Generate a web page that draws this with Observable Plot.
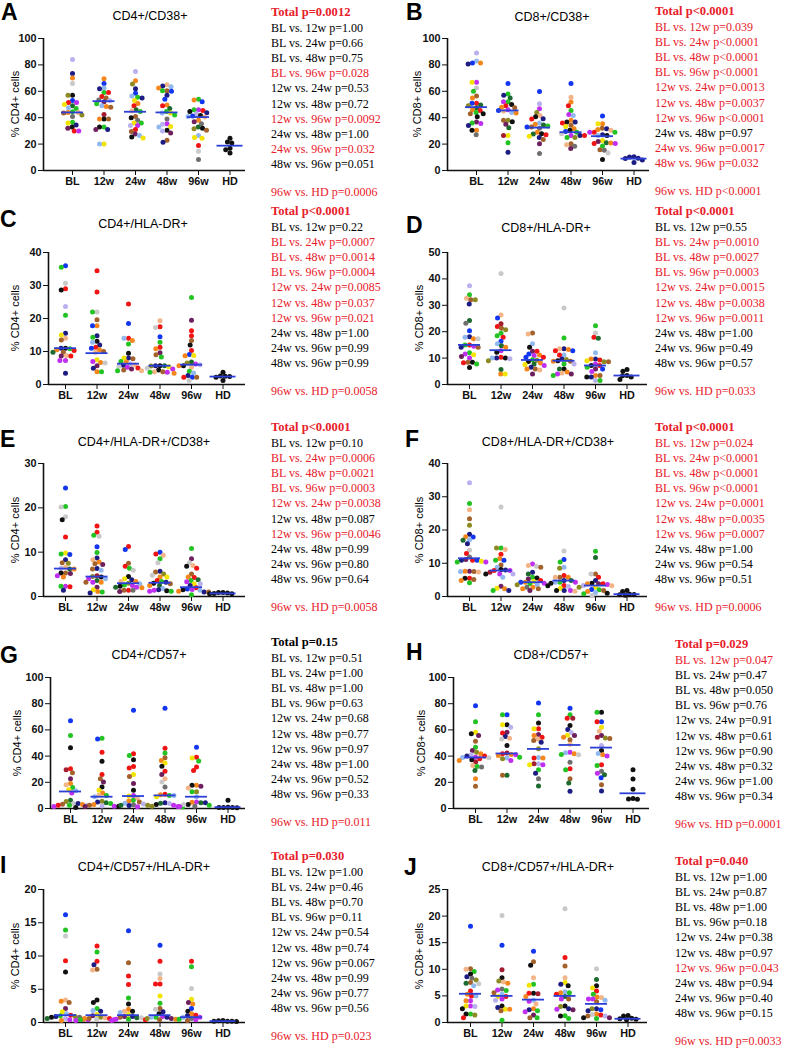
<!DOCTYPE html>
<html><head><meta charset="utf-8">
<script src="https://cdn.jsdelivr.net/npm/d3@7"></script>
<script src="https://cdn.jsdelivr.net/npm/@observablehq/plot@0.6"></script>
<style>
body{margin:0;background:#fff;}
#fig{position:relative;width:788px;height:1049px;overflow:hidden;background:#fff;}
.abs{position:absolute;}
.letter{font:bold 23px "Liberation Sans",Arial,sans-serif;color:#000;line-height:1;}
.title{font:12.5px "Liberation Sans",Arial,sans-serif;color:#000;transform:translate(-50%,-50%);white-space:nowrap;}
.ylab{font:11px "Liberation Sans",Arial,sans-serif;color:#000;transform:translate(-50%,-50%) rotate(-90deg);white-space:nowrap;}
.stats{font:12px "Liberation Serif","Times New Roman",serif;line-height:15.2px;white-space:nowrap;}
.stats .tot{font-weight:bold;font-size:12.6px;}
.stats .hd{margin-top:12.8px;}
.red{color:#e8202a;} .blk{color:#000;}
</style>
</head><body>
<div id="fig"></div>
<script>
// ---------- categories ----------
const GROUPS = ["BL","12w","24w","48w","96w","HD"];
const COMPARISONS = ["BL vs. 12w","BL vs. 24w","BL vs. 48w","BL vs. 96w","12w vs. 24w","12w vs. 48w","12w vs. 96w","24w vs. 48w","24w vs. 96w","48w vs. 96w"];
const PALETTE = {k:"#111111",n:"#1c1c82",b:"#1236f0",r:"#f01414",g:"#22c322",dg:"#1e6b30",o:"#f5861c",p:"#f3b487",br:"#a3622c",ol:"#8c8a22",y:"#f2e400",m:"#c02ef0",dp:"#6e1f5e",lb:"#92b8f0",lg:"#c9c9c9",gr:"#6f6f6f",lv:"#b9b1ee",dr:"#a31c30"};

// ---------- A: CD4+/CD38+ ----------
const A_BL=[[84,"lv"],[73.5,"n"],[70,"o"],[66,"lg"],[57,"k"],[57,"ol"],[53,"b"],[51.5,"r"],[51.5,"m"],[50,"y"],[49,"dg"],[47.5,"lb"],[47,"g"],[44.5,"g"],[44,"o"],[44,"p"],[43.5,"br"],[42,"ol"],[41,"gr"],[36.5,"g"],[36,"y"],[34.5,"n"],[33,"k"],[32,"dp"],[30,"r"],[30,"m"]];
const A_12=[[69.5,"o"],[66,"b"],[62.5,"lb"],[62,"n"],[59,"g"],[59,"r"],[56,"r"],[55,"br"],[53.5,"gr"],[53,"lv"],[52,"dp"],[50.5,"g"],[49,"lb"],[48.5,"o"],[48,"br"],[42.5,"dr"],[39,"k"],[39,"o"],[39,"br"],[33,"g"],[33,"k"],[31,"n"],[31,"dp"],[20,"y"],[20,"lb"]];
const A_24=[[75,"lv"],[68,"o"],[65.5,"ol"],[62,"n"],[58.5,"b"],[56.5,"lb"],[55.5,"g"],[55,"n"],[53,"y"],[50.7,"o"],[49,"r"],[46,"dg"],[45,"p"],[44.7,"g"],[41,"br"],[40,"k"],[38,"gr"],[36,"y"],[36,"g"],[34,"m"],[34,"lv"],[31,"r"],[29.6,"br"],[27.6,"dp"],[26.6,"lb"],[25.4,"k"],[24.6,"y"]];
const A_48=[[65,"p"],[64,"n"],[63.5,"lb"],[62.5,"o"],[60.5,"br"],[60.5,"g"],[60,"b"],[57,"n"],[54,"b"],[49.7,"o"],[49,"r"],[47,"dg"],[44.7,"g"],[43.5,"y"],[43.5,"lb"],[42,"g"],[39,"gr"],[35.4,"m"],[35,"lv"],[33.4,"y"],[33,"lb"],[30.4,"k"],[30,"lv"],[28.4,"dp"],[23,"br"],[21.4,"n"]];
const A_96=[[54,"g"],[53.5,"o"],[52,"b"],[46,"m"],[46,"g"],[45.5,"r"],[44.7,"k"],[43.7,"n"],[43,"lv"],[41.7,"k"],[41.2,"b"],[41,"lb"],[40.5,"p"],[38,"o"],[37,"dp"],[35.4,"gr"],[33,"dg"],[32,"k"],[31.7,"ol"],[30.4,"br"],[26.6,"lb"],[25,"y"],[24.5,"y"],[19,"r"],[14.6,"lg"],[8.3,"gr"]];
const A_HD=[[21.6,"k"],[13.3,"k"],[16.8,"k"],[24.4,"k"],[20.8,"k"],[15.8,"k"]];
const A_MED=[44,52.5,44.5,44,40.5,18.8];
const A_TOTAL="=0.0012", A_PV=["=1.00","=0.66","=0.75","=0.028","=0.53","=0.72","=0.0092","=1.00","=0.032","=0.051"], A_HDP="=0.0006";

// ---------- B: CD8+/CD38+ ----------
const B_BL=[[89,"lv"],[83,"lb"],[81.5,"b"],[81.5,"o"],[80.6,"n"],[66.8,"m"],[66.8,"y"],[62.5,"lg"],[60,"g"],[56.5,"br"],[55,"o"],[51,"r"],[51,"b"],[49.7,"dg"],[49,"ol"],[47.5,"dg"],[46,"o"],[45.5,"r"],[44,"g"],[43,"br"],[43,"k"],[40.7,"k"],[36.7,"dp"],[36,"g"],[35.7,"m"],[34,"n"],[30.4,"o"],[30.4,"k"],[27,"gr"]];
const B_12=[[66,"b"],[58,"g"],[57,"n"],[55,"dg"],[52,"g"],[52,"m"],[50,"k"],[49,"r"],[48,"o"],[47.5,"br"],[46,"m"],[45.5,"b"],[45,"p"],[44,"lb"],[43.5,"o"],[38,"ol"],[38,"br"],[37,"k"],[35,"dp"],[32.4,"dg"],[26.6,"y"],[26.6,"dr"],[21,"g"],[13.8,"n"]];
const B_24=[[59.8,"b"],[50.5,"lv"],[46.7,"m"],[44,"ol"],[41.7,"p"],[40.7,"k"],[39.2,"n"],[39,"r"],[36,"lb"],[35,"o"],[34.4,"dg"],[33.7,"g"],[33,"br"],[33,"b"],[32,"gr"],[29,"o"],[27.9,"k"],[27.6,"dg"],[27,"r"],[26,"y"],[25,"n"],[23.4,"br"],[20.3,"dp"],[12.8,"gr"]];
const B_48=[[66,"b"],[55.5,"p"],[51.8,"o"],[49,"r"],[45.5,"g"],[42.5,"m"],[41.7,"lb"],[38,"o"],[36.7,"k"],[36.7,"n"],[36,"r"],[34.2,"br"],[33.4,"y"],[31.7,"o"],[30.4,"k"],[29.6,"b"],[29,"g"],[27.9,"lg"],[26.6,"m"],[26.6,"n"],[26.6,"r"],[25,"g"],[25,"ol"],[20.3,"br"],[19.6,"p"],[18.3,"gr"],[16.6,"dp"]];
const B_96=[[41.2,"b"],[35.4,"o"],[35.4,"y"],[32,"br"],[31.7,"n"],[31,"o"],[30.5,"p"],[29,"r"],[29,"g"],[29,"m"],[27,"n"],[26.6,"lb"],[26.6,"k"],[22.8,"y"],[22,"dp"],[21,"dg"],[20.9,"o"],[20.4,"r"],[20.4,"m"],[18.6,"g"],[15.8,"br"],[15.3,"gr"],[13.3,"lg"],[8.3,"k"]];
const B_HD=[[10.3,"n"],[6,"n"],[10.5,"n"],[8,"n"],[9,"n"],[9.3,"n"]];
const B_MED=[48,45.5,32.5,29,26,9];
const B_TOTAL="<0.0001", B_PV=["=0.039","<0.0001","<0.0001","<0.0001","=0.0013","=0.0037","<0.0001","=0.97","=0.0017","=0.032"], B_HDP="<0.0001";

// ---------- C: CD4+/HLA-DR+ ----------
const C_BL=[[36,"b"],[35.5,"g"],[30.7,"lg"],[29,"r"],[28.6,"k"],[23.6,"lv"],[21,"g"],[15.5,"n"],[15,"y"],[14,"p"],[13.5,"br"],[11,"k"],[11,"n"],[10.8,"g"],[10.5,"o"],[10.3,"r"],[9.8,"br"],[9.8,"dg"],[8.8,"p"],[8.6,"dp"],[8.6,"r"],[7.3,"m"],[7.3,"m"],[3.4,"n"]];
const C_12=[[34.5,"r"],[28,"r"],[22,"lg"],[22,"g"],[19.6,"br"],[17.8,"o"],[17.8,"b"],[14.8,"n"],[14.3,"g"],[13.1,"k"],[12.8,"lb"],[12,"n"],[11.3,"r"],[11,"b"],[10.5,"o"],[10,"br"],[9.8,"p"],[7.5,"y"],[7,"m"],[6.7,"o"],[6.5,"lg"],[5.7,"dp"],[4.9,"n"],[3.9,"o"],[3.9,"g"]];
const C_24=[[24.4,"r"],[18.5,"b"],[14,"r"],[14,"lb"],[13.3,"o"],[12.3,"g"],[9.5,"k"],[8,"n"],[8,"y"],[7.8,"br"],[7,"g"],[6.8,"o"],[6.2,"lv"],[6,"p"],[5.8,"n"],[5.5,"lg"],[5.2,"m"],[5,"r"],[4.7,"dp"],[4.4,"br"],[4.2,"g"],[4.2,"p"]];
const C_48=[[19.3,"p"],[17.5,"r"],[17.3,"lg"],[14.5,"b"],[12.8,"g"],[11.3,"r"],[10.8,"o"],[9.6,"dp"],[9,"br"],[8.3,"g"],[5.7,"k"],[5.7,"n"],[5.7,"dg"],[5.6,"ol"],[5.4,"y"],[4.9,"lg"],[4.7,"m"],[4.4,"k"],[3.9,"br"],[3.9,"p"],[3.7,"m"],[3.7,"g"],[3.4,"o"]];
const C_96=[[26.4,"g"],[19.5,"dp"],[16.3,"r"],[14.8,"r"],[13.3,"br"],[12,"k"],[10.3,"r"],[9.1,"b"],[8.8,"y"],[8.7,"o"],[6.8,"dg"],[6.5,"ol"],[6.2,"m"],[6,"lv"],[5.7,"k"],[5.7,"o"],[5.2,"p"],[4,"g"],[3.5,"lb"],[2.7,"n"],[2.2,"b"],[2.2,"br"],[2.2,"r"],[1.2,"lg"]];
const C_HD=[[2.5,"k"],[1.2,"k"],[2.2,"k"],[3.7,"k"],[2.6,"k"],[2.4,"k"]];
const C_MED=[11,9.5,6.3,5.7,6,2.4];
const C_TOTAL="<0.0001", C_PV=["=0.22","=0.0007","=0.0014","=0.0004","=0.0085","=0.037","=0.021","=1.00","=0.99","=0.99"], C_HDP="=0.0058";

// ---------- D: CD8+/HLA-DR+ ----------
const D_BL=[[37.4,"lv"],[34,"g"],[32.7,"p"],[32.1,"br"],[32.1,"ol"],[30.5,"n"],[24.2,"dg"],[23.2,"gr"],[20.4,"b"],[18.1,"n"],[17.9,"lb"],[17.3,"o"],[17.3,"lg"],[15,"r"],[15,"g"],[14.5,"m"],[14.1,"n"],[14.1,"br"],[12,"g"],[11.6,"m"],[11.3,"y"],[10.6,"dp"],[10,"m"],[8.4,"br"],[8.4,"k"],[8.2,"r"],[7.8,"g"],[6.4,"k"]];
const D_12=[[42,"lg"],[26.3,"p"],[25.2,"b"],[23,"dr"],[22,"r"],[21.3,"br"],[20.7,"ol"],[19.4,"g"],[18.5,"g"],[17.9,"r"],[16.4,"b"],[15.4,"lb"],[14.7,"dg"],[14.1,"o"],[12.8,"m"],[12.2,"k"],[10.3,"r"],[10,"n"],[10,"k"],[10,"lb"],[9.8,"lv"],[9,"ol"],[5.7,"dg"],[4,"o"],[4,"y"]];
const D_24=[[19.5,"br"],[19.1,"p"],[15.4,"lb"],[14.1,"k"],[12.6,"dp"],[12.6,"r"],[11.6,"b"],[11.2,"o"],[11,"m"],[10.3,"b"],[10.3,"r"],[9.4,"g"],[9.2,"ol"],[8.7,"k"],[8.1,"o"],[7.8,"dg"],[7.6,"y"],[7.2,"m"],[6.5,"n"],[5.9,"br"],[5.9,"o"],[5.5,"p"],[4,"dp"]];
const D_48=[[29,"lg"],[17.6,"g"],[13.5,"n"],[13.5,"p"],[13.3,"o"],[12.8,"r"],[12.8,"b"],[11.2,"lb"],[11.2,"r"],[9.7,"n"],[9.5,"ol"],[9,"k"],[8.8,"br"],[8.8,"o"],[7.8,"g"],[7.8,"lv"],[5.9,"k"],[5.9,"dg"],[4.7,"o"],[4.4,"p"],[4,"m"],[4,"dp"],[3.4,"g"]];
const D_96=[[22.3,"g"],[19.5,"lg"],[17.9,"r"],[17.5,"dg"],[12,"lb"],[9.7,"n"],[9.7,"o"],[9.3,"r"],[9,"y"],[8.6,"ol"],[8.6,"br"],[7.8,"m"],[7.2,"k"],[7.2,"r"],[6.5,"g"],[5.9,"dp"],[5.9,"b"],[4.9,"m"],[3.4,"o"],[3.4,"br"],[2.8,"n"],[2.8,"k"],[1.5,"lv"],[1.5,"g"]];
const D_HD=[[5.7,"k"],[1.9,"k"],[3.4,"k"],[3.3,"k"],[5,"k"],[2.8,"k"]];
const D_MED=[15,13,9.3,9,7.2,3.4];
const D_TOTAL="<0.0001", D_PV=["=0.55","=0.0010","=0.0027","=0.0003","=0.0015","=0.0038","=0.0011","=1.00","=0.49","=0.57"], D_HDP="=0.033";

// ---------- E: CD4+/HLA-DR+/CD38+ ----------
const E_BL=[[24.5,"b"],[20.3,"g"],[20.2,"lg"],[18,"lg"],[17.3,"k"],[13.4,"r"],[9.8,"y"],[9.6,"g"],[9.5,"b"],[8.3,"n"],[7.6,"br"],[7.5,"ol"],[6.6,"p"],[6.4,"lv"],[6.2,"dg"],[6.2,"o"],[5.3,"br"],[5.3,"k"],[5.2,"dp"],[4.7,"m"],[4.4,"o"],[2.3,"m"],[2.3,"g"],[2.2,"r"],[1.4,"n"]];
const E_12=[[15.9,"r"],[14.5,"r"],[13.8,"g"],[13.6,"lg"],[11.2,"b"],[9.9,"g"],[8.7,"n"],[8.3,"p"],[7.8,"o"],[7.4,"br"],[7.2,"dp"],[6.3,"n"],[6.2,"br"],[5.9,"lb"],[4.7,"dr"],[4.5,"ol"],[4.4,"k"],[4,"m"],[4,"lb"],[3.6,"dg"],[3.2,"m"],[3.2,"o"],[3.2,"br"],[2.1,"dp"],[1.5,"y"],[1.1,"o"],[1,"g"],[0.8,"n"]];
const E_24=[[11.3,"r"],[10.6,"b"],[7.5,"br"],[6.8,"r"],[6.4,"g"],[5.9,"lg"],[4.5,"k"],[4,"y"],[3.8,"n"],[3.4,"o"],[3.4,"p"],[3,"ol"],[2.9,"lb"],[2.6,"g"],[2.5,"m"],[2.3,"k"],[2.1,"m"],[2.1,"dg"],[2,"o"],[1.4,"r"],[1.4,"br"],[1.4,"gr"],[1.1,"dp"]];
const E_48=[[10,"b"],[9.6,"r"],[9.3,"p"],[8.5,"g"],[7.6,"lg"],[5.7,"n"],[5.5,"br"],[5.1,"ol"],[4.8,"lg"],[4.4,"o"],[4.4,"y"],[3.6,"r"],[3.4,"g"],[3.2,"n"],[3,"k"],[2.9,"br"],[2.5,"dg"],[2.5,"o"],[1.8,"lb"],[1.5,"n"],[1.4,"m"],[1.3,"k"],[1.2,"m"],[1.2,"g"]];
const E_96=[[10.8,"g"],[8.5,"dp"],[7.6,"lg"],[7,"p"],[6.8,"k"],[6.4,"r"],[5.1,"br"],[4.4,"o"],[4.3,"r"],[3.8,"dg"],[3.6,"g"],[3.3,"m"],[2.9,"y"],[2.9,"lv"],[2.5,"n"],[2,"r"],[1.7,"b"],[1.6,"m"],[1.5,"k"],[1.4,"lb"],[1.2,"o"],[1,"n"],[1,"br"],[0.4,"g"]];
const E_HD=[[0.8,"k"],[0.7,"k"],[0.9,"k"],[0.6,"k"],[0.9,"k"],[0.6,"k"]];
const E_MED=[6.3,4.5,3,3.1,2.1,0.7];
const E_TOTAL="<0.0001", E_PV=["=0.10","=0.0006","=0.0021","=0.0003","=0.0038","=0.087","=0.0046","=0.99","=0.80","=0.64"], E_HDP="=0.0058";

// ---------- F: CD8+/HLA-DR+/CD38+ ----------
const F_BL=[[34.2,"lv"],[28,"g"],[26.1,"p"],[23.4,"br"],[21.4,"ol"],[18.7,"n"],[18,"o"],[17.9,"b"],[17.1,"lb"],[16.9,"dg"],[15.9,"n"],[13.9,"lg"],[12.9,"r"],[11.9,"gr"],[11.1,"dp"],[10.9,"r"],[10.9,"b"],[10.9,"n"],[10.6,"y"],[10.4,"g"],[10.4,"m"],[7.6,"dp"],[7.6,"o"],[7.5,"br"],[7.5,"lb"],[7.4,"p"],[5.5,"r"],[5.5,"k"],[5.1,"br"],[4.8,"o"],[4.1,"g"]];
const F_12=[[26.9,"lg"],[14.6,"g"],[14.6,"ol"],[14.1,"p"],[12.7,"r"],[11.4,"o"],[10.9,"b"],[10.9,"g"],[9.5,"br"],[8.8,"lb"],[8.1,"k"],[8,"n"],[7.8,"r"],[7.8,"m"],[7.3,"dr"],[6.8,"m"],[6.8,"lv"],[6.8,"k"],[5.8,"lb"],[3.1,"dp"],[2.5,"y"],[2.3,"o"],[1.8,"n"],[1.8,"g"]];
const F_24=[[9.8,"m"],[9.3,"p"],[9.1,"lg"],[8.8,"br"],[7.3,"n"],[6.8,"dg"],[5.8,"g"],[5.6,"k"],[5.3,"dp"],[4.8,"r"],[4.5,"y"],[4.3,"o"],[4.3,"b"],[4,"m"],[3.8,"g"],[3.6,"lb"],[3.5,"ol"],[3.2,"k"],[2.8,"o"],[2.8,"gr"],[2.3,"br"],[2.3,"o"],[1.8,"dp"]];
const F_48=[[13.7,"lg"],[11.1,"b"],[10.4,"g"],[8.8,"lb"],[8.5,"ol"],[6.3,"r"],[5.8,"br"],[5.8,"o"],[5.8,"p"],[4.8,"n"],[4.8,"dg"],[4.3,"g"],[4.3,"lb"],[4.3,"m"],[4,"k"],[3.3,"r"],[3,"lv"],[2.5,"y"],[1.8,"n"],[1.8,"m"],[1.8,"k"],[1.6,"p"]];
const F_96=[[13.6,"g"],[11.7,"dg"],[6.8,"br"],[6.8,"lg"],[5.8,"r"],[4.8,"n"],[4,"k"],[3.8,"dp"],[3.8,"r"],[3.8,"o"],[3.6,"m"],[3.3,"lv"],[3.2,"p"],[2.8,"y"],[2.8,"ol"],[2.1,"b"],[2,"g"],[1.8,"br"],[1.5,"o"],[1.2,"lb"],[1,"k"],[0.8,"g"],[0.3,"lg"]];
const F_HD=[[0.5,"k"],[1.5,"k"],[0.4,"k"],[1.8,"k"],[0.7,"k"],[0.6,"k"]];
const F_MED=[11.5,7.8,4.3,4.8,3.3,0.7];
const F_TOTAL="<0.0001", F_PV=["=0.024","<0.0001","<0.0001","<0.0001","=0.0001","=0.0035","=0.0007","=1.00","=0.54","=0.51"], F_HDP="=0.0006";

// ---------- G: CD4+/CD57+ ----------
const G_BL=[[67,"b"],[55.7,"g"],[46.3,"k"],[30.4,"r"],[29.6,"dr"],[27.3,"br"],[22.8,"dp"],[19,"o"],[18.2,"p"],[16,"g"],[14.4,"y"],[13.5,"lb"],[11.9,"m"],[6.3,"dg"],[5.3,"ol"],[3.8,"lg"],[3.8,"n"],[3.3,"br"],[3,"o"],[2.5,"g"],[2.5,"r"],[2.2,"lv"],[1.5,"m"],[0.8,"k"]];
const G_12=[[53.7,"g"],[53,"b"],[43,"r"],[36,"k"],[26,"r"],[22.8,"br"],[20.3,"dp"],[16.5,"k"],[13.9,"y"],[11.9,"o"],[10.1,"p"],[10,"g"],[8.9,"lb"],[5.6,"ol"],[5,"n"],[4.3,"dg"],[3.8,"g"],[3,"o"],[2.5,"br"],[2,"lv"],[1.8,"m"],[1.8,"k"],[1.6,"dp"]];
const G_24=[[75,"b"],[41.8,"r"],[40.5,"g"],[37.2,"k"],[32,"r"],[31,"r"],[26,"y"],[24.5,"br"],[19,"dp"],[13.9,"k"],[10,"m"],[9.6,"y"],[8,"p"],[6.3,"g"],[5.8,"o"],[5,"br"],[4,"lb"],[3.5,"lv"],[2.8,"gr"],[2.5,"dg"],[2.5,"ol"],[2.2,"n"],[1.3,"m"]];
const G_48=[[76.5,"b"],[46,"r"],[42.3,"g"],[38.7,"br"],[36.7,"o"],[34.7,"y"],[32.2,"k"],[28.4,"r"],[26,"dp"],[22.8,"p"],[20.3,"lg"],[16.5,"gr"],[10.9,"r"],[10.5,"o"],[10,"g"],[10,"lb"],[8.9,"y"],[4.3,"n"],[4,"dg"],[3.8,"lv"],[3,"k"],[2.5,"m"],[1.8,"ol"],[1.5,"m"],[1.2,"g"]];
const G_96=[[46.8,"b"],[39.2,"r"],[38.5,"y"],[36.2,"g"],[31.6,"r"],[29,"r"],[17.7,"o"],[17.7,"k"],[17,"dp"],[15.7,"p"],[12.7,"ol"],[12.7,"g"],[9,"lb"],[5,"m"],[4.8,"o"],[4.3,"dg"],[4.3,"n"],[3,"k"],[3,"lg"],[2.5,"g"],[1.8,"gr"],[1.5,"m"]];
const G_HD=[[6.3,"k"],[0.8,"k"],[0.6,"k"],[0.9,"k"],[0.7,"k"],[0.8,"k"]];
const G_MED=[13,9,9.5,10,9,1];
const G_TOTAL="=0.15", G_PV=["=0.51","=1.00","=1.00","=0.63","=0.68","=0.77","=0.97","=1.00","=0.52","=0.33"], G_HDP="=0.011";

// ---------- H: CD8+/CD57+ ----------
const H_BL=[[78.5,"b"],[66.3,"g"],[58.2,"y"],[57,"k"],[55.7,"dp"],[51.4,"br"],[46.8,"g"],[44.3,"dp"],[43,"ol"],[41.8,"o"],[41,"lv"],[40,"n"],[40,"r"],[39.2,"m"],[39,"lb"],[38.8,"lg"],[38,"r"],[37.2,"k"],[36.7,"o"],[35.5,"dr"],[32.9,"p"],[32,"g"],[31.6,"gr"],[29,"dg"],[22.8,"o"],[17,"br"]];
const H_12=[[71.6,"b"],[71.6,"g"],[64,"k"],[64,"y"],[62,"lv"],[58.2,"dp"],[57.7,"r"],[55,"n"],[53.7,"p"],[53,"lg"],[48,"k"],[42.3,"dr"],[41.8,"r"],[41.3,"o"],[41,"m"],[40.5,"o"],[39.2,"g"],[38.5,"lb"],[38,"ol"],[36.7,"m"],[25.3,"dg"],[25.3,"br"]];
const H_24=[[80.5,"b"],[71.6,"g"],[65.3,"k"],[60.8,"r"],[60.8,"y"],[56.5,"dp"],[55.7,"o"],[54.4,"r"],[53,"p"],[51.9,"br"],[50.6,"n"],[45.6,"ol"],[39,"lb"],[38.5,"r"],[38.5,"o"],[34.2,"lv"],[34.2,"dr"],[33.4,"m"],[33.4,"y"],[29.6,"g"],[27,"n"],[22.8,"gr"],[17.2,"dg"]];
const H_48=[[76.5,"b"],[71.6,"g"],[68.9,"r"],[68.9,"dr"],[63.3,"k"],[60.3,"n"],[58,"lv"],[56,"y"],[55.7,"dp"],[54.4,"o"],[52.5,"br"],[49,"p"],[43,"m"],[42.5,"lb"],[41.8,"o"],[41.3,"g"],[41,"lg"],[35.4,"gr"],[30.4,"r"],[29.6,"g"],[22.8,"br"],[19.5,"dg"],[13.2,"n"]];
const H_96=[[73.4,"k"],[73.4,"g"],[66.3,"b"],[66.3,"r"],[62,"y"],[59,"p"],[55.7,"dp"],[54.4,"dr"],[53.9,"ol"],[53.5,"br"],[48,"lv"],[44.3,"k"],[42,"lb"],[41,"o"],[40,"m"],[33.4,"r"],[32.9,"g"],[28.4,"gr"],[27,"m"],[25.8,"dg"],[23.5,"b"],[18.2,"br"],[13.4,"n"]];
const H_HD=[[29.6,"k"],[22.5,"k"],[14.6,"k"],[7,"k"],[7.6,"k"],[7.3,"k"]];
const H_MED=[39,42,45.5,48.5,46.5,11.6];
const H_TOTAL="=0.029", H_PV=["=0.047","=0.47","=0.050","=0.76","=0.91","=0.61","=0.90","=0.32","=1.00","=0.34"], H_HDP="=0.0001";

// ---------- I: CD4+/CD57+/HLA-DR+ ----------
const I_BL=[[16.2,"b"],[13.9,"g"],[13,"lg"],[9.3,"r"],[7.6,"k"],[3.4,"p"],[3.2,"o"],[3,"br"],[2.1,"dp"],[1.6,"y"],[1.3,"lb"],[1.1,"r"],[1,"g"],[0.9,"n"],[0.9,"ol"],[0.8,"k"],[0.8,"gr"],[0.6,"lv"],[0.6,"dg"],[0.5,"br"],[0.4,"m"],[0.4,"m"],[0.3,"o"]];
const I_12=[[11.5,"r"],[10.6,"g"],[9.2,"r"],[8.7,"n"],[8,"br"],[7.9,"p"],[3.4,"k"],[3,"k"],[2.1,"g"],[1.8,"lb"],[1.7,"n"],[1.2,"y"],[1,"dp"],[0.8,"ol"],[0.7,"p"],[0.6,"br"],[0.6,"o"],[0.6,"r"],[0.5,"lg"],[0.4,"g"],[0.4,"m"],[0.3,"m"]];
const I_24=[[13.8,"b"],[9,"br"],[7,"r"],[5.7,"r"],[3.7,"g"],[2.8,"k"],[2,"o"],[1.7,"p"],[1.7,"k"],[1.5,"lb"],[1.2,"y"],[0.9,"dp"],[0.9,"n"],[0.8,"br"],[0.7,"dg"],[0.7,"lg"],[0.5,"g"],[0.5,"m"],[0.4,"r"],[0.3,"m"]];
const I_48=[[11.6,"b"],[9.2,"r"],[7.3,"lg"],[6.6,"p"],[5.8,"r"],[5.8,"r"],[4,"y"],[2.9,"g"],[2.1,"br"],[2,"lg"],[1.6,"n"],[1.3,"k"],[0.9,"m"],[0.8,"g"],[0.8,"n"],[0.8,"lb"],[0.6,"dp"],[0.6,"ol"],[0.5,"o"],[0.4,"br"]];
const I_96=[[9.2,"r"],[8.4,"g"],[5.1,"lg"],[3.5,"y"],[3,"dp"],[2.8,"o"],[2.1,"b"],[1.7,"k"],[1.3,"o"],[1.1,"r"],[1,"n"],[0.8,"lb"],[0.8,"m"],[0.6,"gr"],[0.5,"g"],[0.4,"m"],[0.3,"br"]];
const I_HD=[[0.2,"k"],[0.3,"k"],[0.2,"k"],[0.15,"k"],[0.25,"k"],[0.2,"k"]];
const I_MED=[1.1,1.1,1.1,1.1,0.8,0.2];
const I_TOTAL="=0.030", I_PV=["=1.00","=0.46","=0.70","=0.11","=0.54","=0.74","=0.067","=0.99","=0.77","=0.56"], I_HDP="=0.023";

// ---------- J: CD8+/CD57+/HLA-DR+ ----------
const J_BL=[[18.1,"b"],[10.1,"br"],[10,"p"],[9.6,"g"],[9.1,"k"],[8.6,"n"],[8.3,"gr"],[8,"ol"],[7.5,"br"],[7.4,"dg"],[7.3,"lg"],[6.9,"lb"],[5.9,"r"],[5.3,"o"],[5,"r"],[5,"lb"],[4.1,"m"],[4.1,"o"],[3.1,"m"],[3.1,"y"],[3,"lv"],[2.6,"k"],[1.6,"g"],[1.6,"k"],[1.4,"ol"],[0.9,"r"]];
const J_12=[[20.1,"lg"],[14.5,"b"],[9.9,"dr"],[8.4,"k"],[7.8,"ol"],[7.6,"p"],[7.4,"o"],[6.3,"gr"],[6.1,"m"],[6,"g"],[5.6,"br"],[5.3,"lb"],[4.9,"y"],[4.9,"r"],[4.4,"m"],[4.2,"lv"],[3.1,"k"],[2.8,"n"],[2.5,"y"],[2.5,"o"],[2.2,"br"],[0.4,"g"]];
const J_24=[[13.4,"b"],[11.4,"br"],[10.75,"k"],[8.4,"p"],[7.2,"g"],[7,"y"],[5.5,"k"],[5.5,"r"],[5.4,"dr"],[4.9,"o"],[4.2,"lb"],[4,"m"],[3.5,"p"],[2.6,"o"],[2.4,"n"],[2.2,"g"],[2,"m"],[1.4,"dp"],[0.9,"br"],[0.9,"g"]];
const J_48=[[21.4,"lg"],[12.2,"r"],[10.6,"br"],[8.4,"p"],[7.5,"y"],[7.2,"n"],[6.9,"k"],[5.8,"lb"],[5.6,"o"],[5.6,"g"],[5.3,"r"],[4.9,"dg"],[4.4,"m"],[4.4,"br"],[3.1,"k"],[3,"ol"],[2.6,"n"],[2.5,"m"],[2.4,"dp"],[1.25,"g"],[1.2,"k"],[0.75,"g"]];
const J_96=[[10.1,"lg"],[8.1,"dg"],[6.9,"k"],[6.5,"y"],[5.9,"r"],[5.3,"g"],[4.8,"o"],[4.7,"p"],[4.4,"m"],[4.4,"m"],[4.2,"lb"],[3.9,"br"],[2.6,"n"],[2.6,"ol"],[2.4,"b"],[2.2,"n"],[1.6,"o"],[1.5,"lg"],[1.4,"r"],[1.2,"br"],[1.2,"lv"],[0.9,"k"],[0.9,"dp"],[0.75,"g"]];
const J_HD=[[1.3,"k"],[0.6,"k"],[0.7,"k"],[1.2,"k"],[0.8,"k"],[0.5,"k"]];
const J_MED=[5.4,5,4.3,5,3.5,0.7];
const J_TOTAL="=0.040", J_PV=["=1.00","=0.87","=1.00","=0.18","=0.38","=0.97","=0.043","=0.94","=0.40","=0.15"], J_HDP="=0.0033";

// ---------- layout ----------
const PANELS = [
 {id:"A",title:"CD4+/CD38+",ylab:"% CD4+ cells",ymax:100,yticks:[0,20,40,60,80,100],data:[A_BL,A_12,A_24,A_48,A_96,A_HD],med:A_MED,total:A_TOTAL,pv:A_PV,hdp:A_HDP,
  left:0,axisX:43,c0:72,end:245,yTop:38,y0:170,lx:1,ly:1,tx:150,ty:16,labX:15,sx:271,sy:13},
 {id:"B",title:"CD8+/CD38+",ylab:"% CD8+ cells",ymax:100,yticks:[0,20,40,60,80,100],data:[B_BL,B_12,B_24,B_48,B_96,B_HD],med:B_MED,total:B_TOTAL,pv:B_PV,hdp:B_HDP,
  left:394,axisX:447,c0:476,end:649,yTop:38,y0:170,lx:406,ly:1,tx:552,ty:17,labX:417,sx:655,sy:12},
 {id:"C",title:"CD4+/HLA-DR+",ylab:"% CD4+ cells",ymax:40,yticks:[0,10,20,30,40],data:[C_BL,C_12,C_24,C_48,C_96,C_HD],med:C_MED,total:C_TOTAL,pv:C_PV,hdp:C_HDP,
  left:0,axisX:48,c0:65,end:245,yTop:252,y0:384,lx:0,ly:208,tx:143,ty:224,labX:15,sx:271,sy:212},
 {id:"D",title:"CD8+/HLA-DR+",ylab:"% CD8+ cells",ymax:50,yticks:[0,10,20,30,40,50],data:[D_BL,D_12,D_24,D_48,D_96,D_HD],med:D_MED,total:D_TOTAL,pv:D_PV,hdp:D_HDP,
  left:394,axisX:447,c0:469,end:647,yTop:252,y0:384,lx:406,ly:214,tx:546,ty:228,labX:419,sx:655,sy:212},
 {id:"E",title:"CD4+/HLA-DR+/CD38+",ylab:"% CD4+ cells",ymax:30,yticks:[0,10,20,30],data:[E_BL,E_12,E_24,E_48,E_96,E_HD],med:E_MED,total:E_TOTAL,pv:E_PV,hdp:E_HDP,
  left:0,axisX:43,c0:65,end:245,yTop:463,y0:596,lx:0,ly:428,tx:144,ty:442,labX:15,sx:271,sy:428},
 {id:"F",title:"CD8+/HLA-DR+/CD38+",ylab:"% CD8+ cells",ymax:40,yticks:[0,10,20,30,40],data:[F_BL,F_12,F_24,F_48,F_96,F_HD],med:F_MED,total:F_TOTAL,pv:F_PV,hdp:F_HDP,
  left:394,axisX:447,c0:469,end:647,yTop:463,y0:596,lx:405,ly:428,tx:548,ty:442,labX:419,sx:655,sy:428},
 {id:"G",title:"CD4+/CD57+",ylab:"% CD4+ cells",ymax:100,yticks:[0,20,40,60,80,100],data:[G_BL,G_12,G_24,G_48,G_96,G_HD],med:G_MED,total:G_TOTAL,pv:G_PV,hdp:G_HDP,
  left:0,axisX:50,c0:70,end:245,yTop:677,y0:808,lx:0,ly:644,tx:149,ty:655,labX:17,sx:271,sy:643},
 {id:"H",title:"CD8+/CD57+",ylab:"% CD8+ cells",ymax:100,yticks:[0,20,40,60,80,100],data:[H_BL,H_12,H_24,H_48,H_96,H_HD],med:H_MED,total:H_TOTAL,pv:H_PV,hdp:H_HDP,
  left:394,axisX:453,c0:475,end:649,yTop:677,y0:808,lx:406,ly:641,tx:551,ty:655,labX:421,sx:675,sy:645},
 {id:"I",title:"CD4+/CD57+/HLA-DR+",ylab:"% CD4+ cells",ymax:20,yticks:[0,5,10,15,20],data:[I_BL,I_12,I_24,I_48,I_96,I_HD],med:I_MED,total:I_TOTAL,pv:I_PV,hdp:I_HDP,
  left:0,axisX:43,c0:65,end:245,yTop:889,y0:1022,lx:0,ly:854,tx:144,ty:867,labX:15,sx:271,sy:857},
 {id:"J",title:"CD8+/CD57+/HLA-DR+",ylab:"% CD8+ cells",ymax:25,yticks:[0,5,10,15,20,25],data:[J_BL,J_12,J_24,J_48,J_96,J_HD],med:J_MED,total:J_TOTAL,pv:J_PV,hdp:J_HDP,
  left:394,axisX:447,c0:470,end:647,yTop:889,y0:1022,lx:404,ly:856,tx:548,ty:867,labX:419,sx:675,sy:862}
];

const STEP = 31.5, R = 2.5, MEDIAN_BLUE = "#2c3fd6", AXIS = "#111";
const fig = document.getElementById("fig");

function swarm(groupArrays, ky) {
  const out = [];
  const dd = 2 * R * 0.9;
  groupArrays.forEach((arr, gi) => {
    const placed = [];
    const pts = arr.map(([v, c]) => ({v, c})).sort((a, b) => b.v - a.v);
    for (const d of pts) {
      const py = d.v * ky;
      const cands = [0];
      for (const q of placed) {
        const dy = Math.abs(q.py - py);
        if (dy < dd) { const dx = Math.sqrt(dd * dd - dy * dy); cands.push(q.px + dx, q.px - dx); }
      }
      cands.sort((a, b) => Math.abs(a) - Math.abs(b) || a - b);
      let px = 0;
      for (const c of cands) {
        if (placed.every(q => (q.px - c) ** 2 + (q.py - py) ** 2 >= dd * dd - 1e-6)) { px = c; break; }
      }
      placed.push({px, py});
      out.push({x: gi + px / STEP, y: d.v, fill: PALETTE[d.c]});
    }
  });
  return out;
}

function add(cls, x, y, html) {
  const el = document.createElement("div");
  el.className = "abs " + cls;
  el.style.left = x + "px"; el.style.top = y + "px";
  el.innerHTML = html;
  fig.appendChild(el);
  return el;
}

function sig(p) { return p.startsWith("<") || parseFloat(p.slice(1)) < 0.05; }

for (const P of PANELS) {
  const plotH = P.y0 - P.yTop;
  const ky = plotH / P.ymax;
  const dots = swarm(P.data, ky);
  const meds = P.med.map((m, i) => { const w = (i === 5 ? 13 : 11) / STEP; return {x1: i - w, x2: i + w, y: m}; });
  const d0 = (P.axisX - P.c0) / STEP, d1 = (P.end - P.c0) / STEP;
  const mr = 8;
  const svg = Plot.plot({
    width: P.end + mr - P.left,
    height: 10 + plotH + 30,
    marginLeft: P.axisX - P.left,
    marginRight: mr,
    marginTop: 10,
    marginBottom: 30,
    style: {fontFamily: '"Liberation Sans", Arial, sans-serif', fontSize: "10.8px", fontWeight: "bold", color: AXIS, background: "transparent", overflow: "visible"},
    x: {type: "linear", domain: [d0, d1], ticks: [0, 1, 2, 3, 4, 5], tickFormat: i => GROUPS[i], tickSize: 5, tickPadding: 2, label: null},
    y: {domain: [0, P.ymax], ticks: P.yticks, tickSize: 5, tickPadding: 2, label: null},
    marks: [
      Plot.ruleY([0], {stroke: AXIS, strokeWidth: 1.6}),
      Plot.ruleX([d0], {stroke: AXIS, strokeWidth: 1.6}),
      Plot.dot(dots, {x: "x", y: "y", fill: "fill", r: R, stroke: "none"}),
      Plot.ruleY(meds, {x1: "x1", x2: "x2", y: "y", stroke: MEDIAN_BLUE, strokeWidth: 1.8})
    ]
  });
  svg.style.position = "absolute";
  svg.style.left = P.left + "px";
  svg.style.top = (P.yTop - 10) + "px";
  fig.appendChild(svg);

  add("letter", P.lx, P.ly, P.id);
  add("title", P.tx, P.ty, P.title);
  add("ylab", P.labX, (P.yTop + P.y0) / 2, P.ylab);

  let html = `<div class="tot ${sig(P.total) ? "red" : "blk"}">Total p${P.total}</div>`;
  P.pv.forEach((p, i) => { html += `<div class="${sig(p) ? "red" : "blk"}">${COMPARISONS[i]} p${p}</div>`; });
  html += `<div class="hd ${sig(P.hdp) ? "red" : "blk"}">96w vs. HD p${P.hdp}</div>`;
  add("stats", P.sx, P.sy - 7.6, html);
}
</script>
</body></html>
